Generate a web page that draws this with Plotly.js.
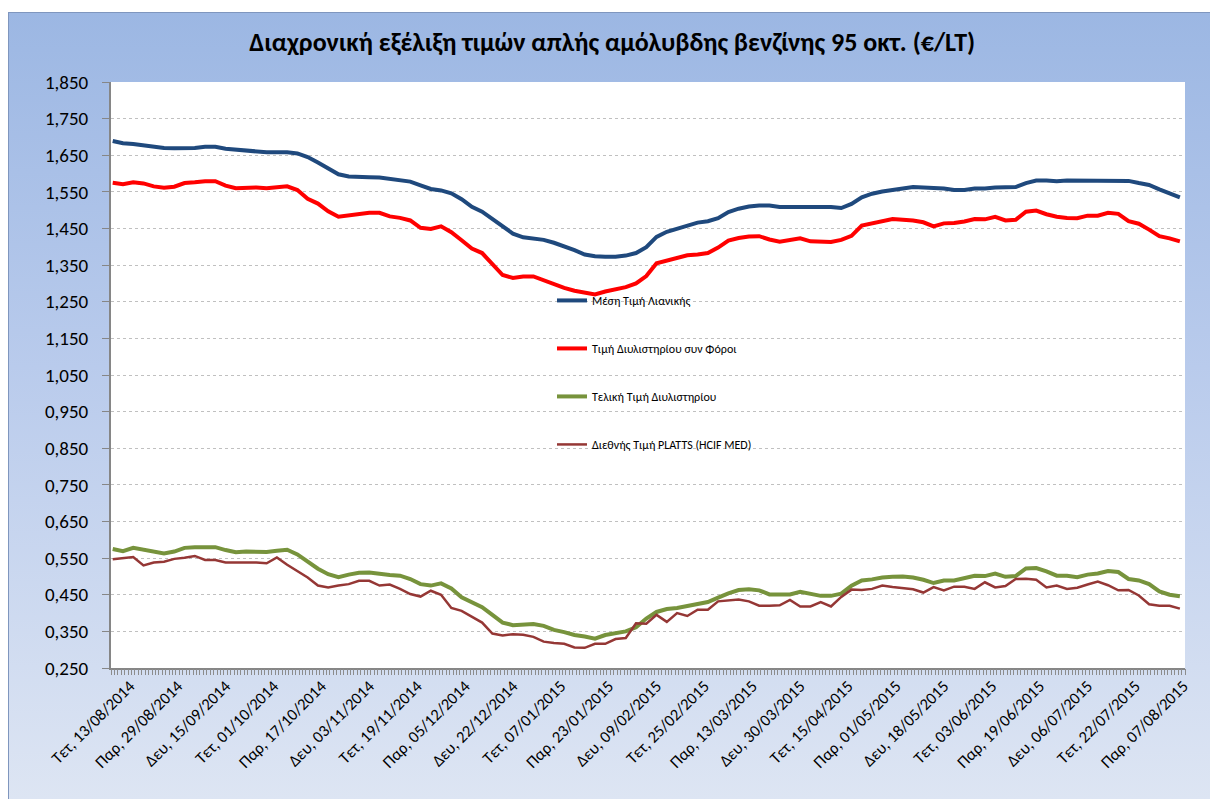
<!DOCTYPE html>
<html>
<head>
<meta charset="utf-8">
<script src="https://cdn.plot.ly/plotly-3.0.1.min.js"></script>
<style>
  html, body { margin: 0; padding: 0; background: #ffffff; }
  #frame { position: absolute; left: 8px; top: 12px; width: 1201px; height: 786px;
           border: 1px solid #7f96be; border-right: none; border-bottom: none;
           background: linear-gradient(to bottom, #9cb7e3 0%, #b9cbec 45%, #dde5f3 100%); }
  #chart { position: absolute; left: 0; top: 0; width: 1210px; height: 799px; }
</style>
</head>
<body>
<div id="frame"></div>
<div id="chart"></div>
<script>
// Tick labels (every 14th category, Mon–Sat trading days)
const tickLabels = [
  "Τετ, 13/08/2014","Παρ, 29/08/2014","Δευ, 15/09/2014","Τετ, 01/10/2014","Παρ, 17/10/2014",
  "Δευ, 03/11/2014","Τετ, 19/11/2014","Παρ, 05/12/2014","Δευ, 22/12/2014","Τετ, 07/01/2015",
  "Παρ, 23/01/2015","Δευ, 09/02/2015","Τετ, 25/02/2015","Παρ, 13/03/2015","Δευ, 30/03/2015",
  "Τετ, 15/04/2015","Παρ, 01/05/2015","Δευ, 18/05/2015","Τετ, 03/06/2015","Παρ, 19/06/2015",
  "Δευ, 06/07/2015","Τετ, 22/07/2015","Παρ, 07/08/2015"
];
const totalCategories = 314;
const firstLabelCategory = 5;
const labelEvery = 14;
const sampleEvery = 3;   // values below are read every 3rd category

const seriesNames = [
  "Μέση Τιμή Λιανικής",
  "Τιμή Διυλιστηρίου συν Φόροι",
  "Τελική Τιμή Διυλιστηρίου",
  "Διεθνής Τιμή PLATTS (HCIF MED)"
];

const retail = [
1.689,1.683,1.681,1.677,1.674,1.670,1.669,1.669,1.670,1.673,
1.673,1.668,1.665,1.662,1.660,1.658,1.658,1.658,1.655,1.645,
1.630,1.615,1.598,1.592,1.590,1.590,1.589,1.585,1.583,1.578,
1.568,1.558,1.554,1.546,1.530,1.509,1.496,1.477,1.455,1.436,
1.426,1.423,1.419,1.411,1.402,1.391,1.379,1.374,1.373,1.373,
1.376,1.383,1.399,1.427,1.441,1.450,1.459,1.466,1.470,1.478,
1.495,1.504,1.510,1.513,1.513,1.509,1.509,1.509,1.509,1.509,
1.509,1.506,1.517,1.535,1.545,1.551,1.556,1.559,1.563,1.562,
1.559,1.559,1.555,1.555,1.559,1.559,1.562,1.562,1.563,1.574,
1.581,1.581,1.579,1.581,1.581,1.581,1.581,1.581,1.581,1.580,
1.574,1.569,1.557,1.546,1.535];

const refineryPlusTax = [
1.575,1.571,1.576,1.573,1.565,1.561,1.564,1.574,1.576,1.579,
1.579,1.567,1.560,1.561,1.562,1.560,1.562,1.565,1.555,1.531,
1.518,1.497,1.482,1.486,1.489,1.493,1.493,1.483,1.479,1.472,
1.452,1.449,1.456,1.440,1.418,1.395,1.383,1.353,1.323,1.315,
1.319,1.319,1.308,1.298,1.288,1.280,1.276,1.270,1.278,1.283,
1.290,1.300,1.320,1.355,1.362,1.369,1.377,1.379,1.383,1.398,
1.417,1.424,1.428,1.429,1.420,1.414,1.418,1.423,1.415,1.413,
1.413,1.419,1.430,1.458,1.464,1.469,1.476,1.474,1.472,1.467,
1.456,1.464,1.465,1.469,1.476,1.475,1.482,1.472,1.474,1.496,
1.499,1.489,1.482,1.479,1.478,1.485,1.485,1.493,1.490,1.470,
1.463,1.447,1.429,1.423,1.415];

const refineryFinal = [
0.575,0.569,0.578,0.573,0.566,0.563,0.568,0.578,0.580,0.580,
0.580,0.572,0.566,0.568,0.567,0.567,0.570,0.573,0.560,0.540,
0.521,0.506,0.498,0.505,0.510,0.511,0.507,0.504,0.502,0.493,
0.479,0.475,0.481,0.467,0.443,0.430,0.416,0.395,0.374,0.367,
0.368,0.370,0.365,0.354,0.348,0.340,0.336,0.330,0.340,0.344,
0.350,0.361,0.385,0.403,0.411,0.414,0.419,0.425,0.430,0.442,
0.454,0.463,0.465,0.462,0.451,0.451,0.451,0.458,0.452,0.447,
0.447,0.453,0.475,0.489,0.492,0.497,0.499,0.500,0.497,0.491,
0.482,0.489,0.489,0.496,0.502,0.501,0.508,0.499,0.501,0.522,
0.523,0.514,0.502,0.502,0.498,0.505,0.508,0.515,0.512,0.493,
0.489,0.479,0.459,0.450,0.446];

const platts = [
0.547,0.550,0.553,0.530,0.538,0.540,0.548,0.551,0.556,0.545,
0.545,0.538,0.538,0.540,0.538,0.536,0.552,0.532,0.515,0.497,
0.475,0.470,0.475,0.479,0.488,0.488,0.475,0.478,0.466,0.452,
0.445,0.461,0.450,0.414,0.406,0.390,0.374,0.344,0.339,0.342,
0.341,0.335,0.322,0.318,0.316,0.306,0.305,0.316,0.316,0.329,
0.332,0.372,0.371,0.395,0.376,0.400,0.392,0.409,0.409,0.432,
0.435,0.437,0.432,0.420,0.420,0.421,0.436,0.418,0.418,0.430,
0.418,0.444,0.464,0.463,0.466,0.475,0.471,0.467,0.465,0.456,
0.471,0.462,0.472,0.472,0.466,0.484,0.470,0.474,0.493,0.494,
0.491,0.470,0.475,0.466,0.469,0.478,0.486,0.476,0.462,0.463,
0.448,0.424,0.420,0.420,0.412];

const colors = ["#1F497D", "#FF0000", "#77933C", "#953735"];
const widths = [4, 4, 4, 2.5];
const seriesValues = [retail, refineryPlusTax, refineryFinal, platts];

const FONT = "Carlito, Calibri, Roboto, 'Noto Sans', sans-serif";

const traces = seriesValues.map((vals, k) => ({
  type: "scatter",
  mode: "lines",
  name: seriesNames[k],
  legendgroup: "g" + k,
  x: vals.map((_, i) => i * sampleEvery),
  y: vals,
  line: { color: colors[k], width: widths[k], shape: "linear" },
  hoverinfo: "skip"
}));
// invisible helper trace that carries the per-category tick-mark axis
traces.push({ type: "scatter", mode: "lines", x: [0], y: [null], xaxis: "x2", yaxis: "y",
              showlegend: false, hoverinfo: "skip" });

const tickVals = tickLabels.map((_, i) => firstLabelCategory + i * labelEvery);

const layout = {
  width: 1210,
  height: 799,
  margin: { l: 111, r: 25, t: 82, b: 131, pad: 0 },
  paper_bgcolor: "rgba(0,0,0,0)",
  plot_bgcolor: "#ffffff",
  separators: ",.",
  font: { family: FONT, color: "#000000" },
  title: {
    text: "Διαχρονική εξέλιξη τιμών απλής αμόλυβδης βενζίνης 95 οκτ. (€/LT)",
    font: { family: FONT, size: 26, color: "#000000", weight: "bold" },
    xref: "container", x: 0.506, xanchor: "center",
    yref: "container", y: 1 - 42 / 799, yanchor: "middle"
  },
  showlegend: true,
  legend: {
    x: 0.4106, xanchor: "left",
    y: 0.652, yanchor: "top",
    bgcolor: "rgba(0,0,0,0)",
    borderwidth: 0,
    font: { family: FONT, size: 12, color: "#000000" },
    traceorder: "grouped",
    tracegroupgap: 29,
    itemclick: false, itemdoubleclick: false
  },
  xaxis: {
    range: [-0.5, totalCategories - 0.5],
    tickmode: "array",
    tickvals: tickVals,
    ticktext: tickLabels,
    tickangle: -45,
    ticks: "",
    tickfont: { family: FONT, size: 16.5, color: "#000000" },
    showgrid: false,
    zeroline: false,
    showline: true,
    linecolor: "#868686",
    linewidth: 2,
    fixedrange: true
  },
  xaxis2: {
    overlaying: "x",
    anchor: "y",
    side: "bottom",
    range: [-0.5, totalCategories - 0.5],
    tickmode: "linear",
    tick0: -0.5,
    dtick: 1,
    ticks: "outside",
    ticklen: 6,
    tickwidth: 1,
    tickcolor: "#8c8c8c",
    showticklabels: false,
    showgrid: false,
    zeroline: false,
    showline: false,
    fixedrange: true
  },
  yaxis: {
    range: [0.25, 1.85],
    tickmode: "linear",
    tick0: 0.25,
    dtick: 0.1,
    tickformat: ".3f",
    ticks: "outside",
    ticklen: 7,
    tickwidth: 1,
    tickcolor: "#868686",
    ticklabelstandoff: 10,
    tickfont: { family: FONT, size: 19, color: "#000000" },
    showgrid: true,
    gridcolor: "#c0c0c0",
    griddash: "dot",
    gridwidth: 1,
    zeroline: false,
    showline: true,
    linecolor: "#868686",
    linewidth: 2,
    fixedrange: true
  }
};

Plotly.newPlot("chart", traces, layout, { staticPlot: true, displayModeBar: false });
</script>
</body>
</html>
